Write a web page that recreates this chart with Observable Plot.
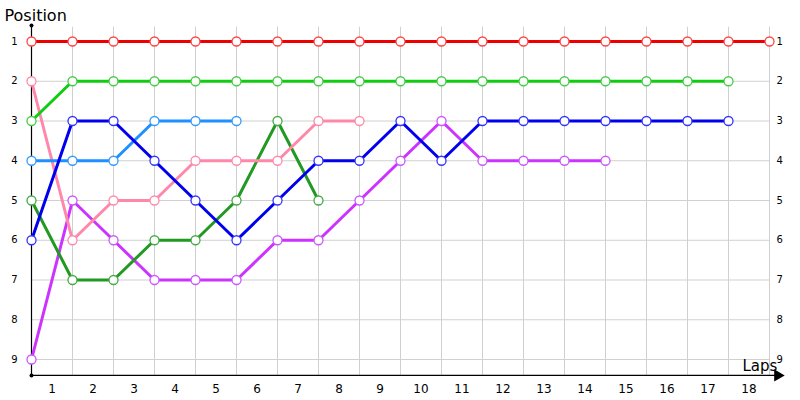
<!DOCTYPE html>
<html>
<head>
<meta charset="utf-8">
<script src="https://cdn.jsdelivr.net/npm/d3@7"></script>
<script src="https://cdn.jsdelivr.net/npm/@observablehq/plot@0.6"></script>
<style>
  html, body { margin: 0; padding: 0; background: #fff; }
  #chart { width: 800px; height: 400px; }
</style>
</head>
<body>
<div id="chart"></div>
<script>
const laps = d3.range(0, 19);
const lapLabels = d3.range(1, 19).map(String);
const positions = [1, 2, 3, 4, 5, 6, 7, 8, 9];

const redPos = [1,1,1,1,1,1,1,1,1,1,1,1,1,1,1,1,1,1,1];
const greenPos = [3,2,2,2,2,2,2,2,2,2,2,2,2,2,2,2,2,2];
const bluePos = [6,3,3,4,5,6,5,4,4,3,4,3,3,3,3,3,3,3];
const skyPos = [4,4,4,3,3,3];
const pinkPos = [2,6,5,5,4,4,4,3,3];
const darkGreenPos = [5,7,7,6,6,5,3,5];
const purplePos = [9,5,6,7,7,7,6,6,5,4,3,4,4,4,4];

const seriesNames = ["purple", "darkgreen", "pink", "sky", "blue", "green", "red"];
const seriesValues = [purplePos, darkGreenPos, pinkPos, skyPos, bluePos, greenPos, redPos];
const lineColors = ["#cc33ff", "#229922", "#ff88aa", "#1e90ff", "#0000ee", "#11cc11", "#ee0000"];
const dotColors = ["#cc55ff", "#44aa44", "#ff88aa", "#3399ff", "#3333ff", "#44cc44", "#ff4444"];

const rows = [];
seriesNames.forEach((name, si) => {
  seriesValues[si].forEach((p, i) => rows.push({series: name, lap: i, pos: p}));
});

const yTop = 0.64, yAxis = 9.4;
const font = "DejaVu Sans, Verdana, sans-serif";

const chart = Plot.plot({
  width: 800,
  height: 400,
  marginLeft: 31, marginRight: 31, marginTop: 41, marginBottom: 41,
  x: {domain: [0, 18], axis: null},
  y: {domain: [1, 9], reverse: true, axis: null},
  color: {domain: seriesNames, range: lineColors},
  style: {fontFamily: font, background: "#fff"},
  marks: [
    // grid
    Plot.ruleX(laps.slice(1), {y1: yTop, y2: yAxis, stroke: "#d0d0d0", strokeWidth: 1, strokeOpacity: 1}),
    Plot.ruleY(positions, {x1: 0, x2: 18, stroke: "#d0d0d0", strokeWidth: 1, strokeOpacity: 1}),
    // axes
    Plot.ruleX([0], {y1: 0.6, y2: yAxis, stroke: "#000", strokeWidth: 1.2}),
    Plot.ruleY([yAxis], {x1: 0, x2: 18.2, stroke: "#000", strokeWidth: 1.2}),
    Plot.dot([[0, 0.6], [0, yAxis]], {x: d => d[0], y: d => d[1], r: 2, fill: "#000"}),
    Plot.dot([[18.2, yAxis]], {x: d => d[0], y: d => d[1], symbol: "triangle", rotate: 90, r: 4.5, fill: "#000", stroke: "none"}),
    // lines
    Plot.line(rows, {x: "lap", y: "pos", z: "series", stroke: "series", strokeWidth: 3, curve: "linear"}),
    Plot.dot(rows, {x: "lap", y: "pos", r: 4.5, fill: "#fff", stroke: d => dotColors[seriesNames.indexOf(d.series)], strokeWidth: 1.3}),
    // tick labels
    Plot.text(lapLabels, {x: (d, i) => i + 0.5, y: yAxis, text: d => d, dy: 14, fontSize: 12, fill: "#000"}),
    Plot.text(positions, {x: 0, y: d => d, text: d => String(d), dx: -17, fontSize: 10, fill: "#000"}),
    Plot.text(positions, {x: 18, y: d => d, text: d => String(d), dx: 7, textAnchor: "start", fontSize: 10, fill: "#000"}),
    // titles
    Plot.text(["Position"], {frameAnchor: "top-left", text: d => d, dx: -27, dy: -26, textAnchor: "start", lineAnchor: "middle", fontSize: 16, fill: "#000"}),
    Plot.text(["Laps"], {frameAnchor: "bottom-right", text: d => d, dx: -27, dy: 7, textAnchor: "start", lineAnchor: "middle", fontSize: 15, fill: "#000"})
  ]
});
document.getElementById("chart").appendChild(chart);
</script>
</body>
</html>
